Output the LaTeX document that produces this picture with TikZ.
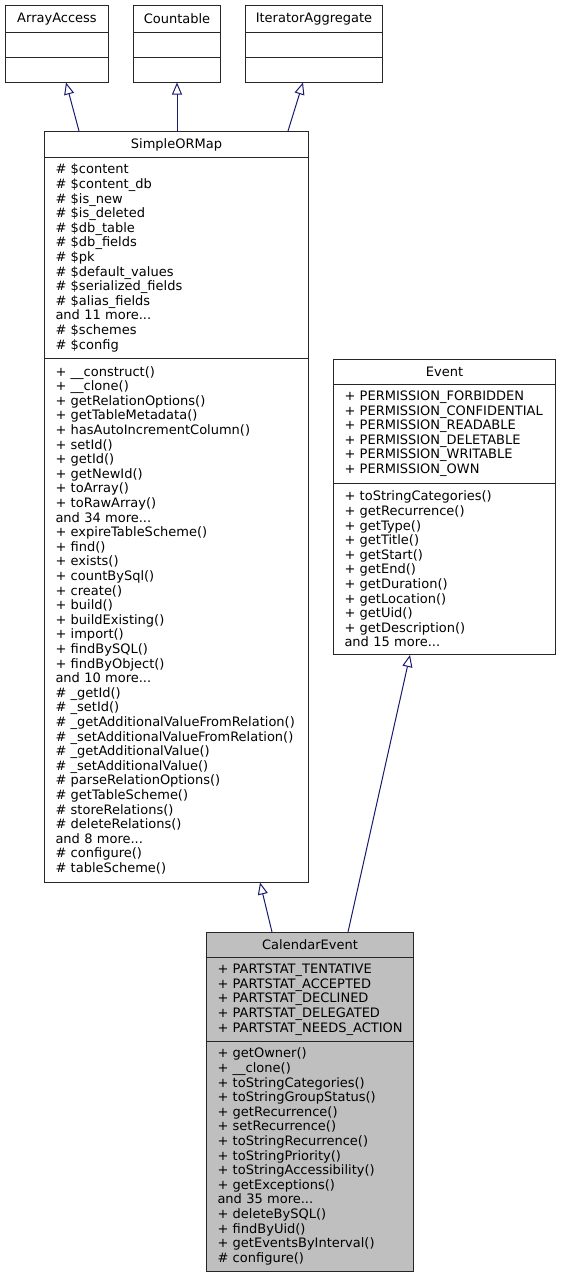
\documentclass[tikz,border=0pt]{standalone}
\usepackage{fontspec}
\setmainfont{DejaVu Sans}
\usetikzlibrary{arrows.meta}
\definecolor{navyline}{HTML}{191970}
\definecolor{hlgray}{HTML}{BFBFBF}
\hyphenpenalty=10000
\hbadness=10000
\begin{document}
\begin{tikzpicture}[
    x=1pt, y=-1pt,
    font=\fontsize{13}{14.6}\selectfont,
    part/.style={draw=black!85, line width=1pt, fill=white, anchor=north west,
      inner sep=0pt, align=left},
    titlepart/.style={part, align=center},
    inherit/.style={draw=navyline, line width=1pt,
      -{Triangle[open, length=12pt, width=10pt]}}
  ]
    \useasboundingbox (0,0) rectangle (561,1277);
    % interfaces arriba
    \node[titlepart, minimum width=103pt, minimum height=26.5pt] (aa) at (5,5) {ArrayAccess};
    \node[part, minimum width=103pt, minimum height=25pt] (aaattr) at (5,31.5) {};
    \node[part, minimum width=103pt, minimum height=25pt] (aaops) at (5,56.5) {};
    \node[titlepart, minimum width=87pt, minimum height=26.5pt] (cnt) at (133,5) {Countable};
    \node[part, minimum width=87pt, minimum height=25pt] (cntattr) at (133,31.5) {};
    \node[part, minimum width=87pt, minimum height=25pt] (cntops) at (133,56.5) {};
    \node[titlepart, minimum width=137pt, minimum height=26.5pt] (ia) at (245,5) {IteratorAggregate};
    \node[part, minimum width=137pt, minimum height=25pt] (iaattr) at (245,31.5) {};
    \node[part, minimum width=137pt, minimum height=25pt] (iaops) at (245,56.5) {};
    % SimpleORMap
    \node[titlepart, minimum width=264pt, minimum height=26pt] (smap) at (44,131) {SimpleORMap};
    \node[part, minimum width=264pt, minimum height=201pt, text width=242pt] (smapattr) at (44,157) {%
      \# \$content\\ \# \$content\_db\\ \# \$is\_new\\ \# \$is\_deleted\\ \# \$db\_table\\
      \# \$db\_fields\\ \# \$pk\\ \# \$default\_values\\ \# \$serialized\_fields\\
      \# \$alias\_fields\\ and 11 more...\\ \# \$schemes\\ \# \$config};
    \node[part, minimum width=264pt, minimum height=523.5pt, text width=242pt] (smapops) at (44,358) {%
      + \_\_construct()\\ + \_\_clone()\\ + getRelationOptions()\\ + getTableMetadata()\\
      + hasAutoIncrementColumn()\\ + setId()\\ + getId()\\ + getNewId()\\ + toArray()\\
      + toRawArray()\\ and 34 more...\\ + expireTableScheme()\\ + find()\\ + exists()\\
      + countBySql()\\ + create()\\ + build()\\ + buildExisting()\\ + import()\\
      + findBySQL()\\ + findByObject()\\ and 10 more...\\ \# \_getId()\\ \# \_setId()\\
      \# \_getAdditionalValueFromRelation()\\ \# \_setAdditionalValueFromRelation()\\
      \# \_getAdditionalValue()\\ \# \_setAdditionalValue()\\ \# parseRelationOptions()\\
      \# getTableScheme()\\ \# storeRelations()\\ \# deleteRelations()\\ and 8 more...\\
      \# configure()\\ \# tableScheme()};
    % Event
    \node[titlepart, minimum width=222pt, minimum height=25pt] (event) at (333,358.5) {Event};
    \node[part, minimum width=222pt, minimum height=99.5pt, text width=200pt] (eventattr) at (333,383.5) {%
      + PERMISSION\_FORBIDDEN\\ + PERMISSION\_CONFIDENTIAL\\ + PERMISSION\_READABLE\\
      + PERMISSION\_DELETABLE\\ + PERMISSION\_WRITABLE\\ + PERMISSION\_OWN};
    \node[part, minimum width=222pt, minimum height=171pt, text width=200pt] (eventops) at (333,483) {%
      + toStringCategories()\\ + getRecurrence()\\ + getType()\\ + getTitle()\\
      + getStart()\\ + getEnd()\\ + getDuration()\\ + getLocation()\\ + getUid()\\
      + getDescription()\\ and 15 more...};
    % CalendarEvent (resaltada)
    \node[titlepart, fill=hlgray, minimum width=207pt, minimum height=25pt] (cal) at (206,932) {CalendarEvent};
    \node[part, fill=hlgray, minimum width=207pt, minimum height=84pt, text width=185pt] (calattr) at (206,957) {%
      + PARTSTAT\_TENTATIVE\\ + PARTSTAT\_ACCEPTED\\ + PARTSTAT\_DECLINED\\
      + PARTSTAT\_DELEGATED\\ \mbox{+ PARTSTAT\_NEEDS\_ACTION}};
    \node[part, fill=hlgray, minimum width=207pt, minimum height=230pt, text width=185pt] (calops) at (206,1041) {%
      + getOwner()\\ + \_\_clone()\\ + toStringCategories()\\ + toStringGroupStatus()\\
      + getRecurrence()\\ + setRecurrence()\\ + toStringRecurrence()\\ + toStringPriority()\\
      + toStringAccessibility()\\ + getExceptions()\\ and 35 more...\\ + deleteBySQL()\\
      + findByUid()\\ + getEventsByInterval()\\ \# configure()};
    % herencia
    \draw[inherit] ([xshift=35pt]smap.north west) -- ([xshift=61pt]aaops.south west);
    \draw[inherit] ([xshift=133pt]smap.north west) -- ([xshift=44pt]cntops.south west);
    \draw[inherit] ([xshift=244pt]smap.north west) -- ([xshift=58pt]iaops.south west);
    \draw[inherit] ([xshift=66pt]cal.north west) -- ([xshift=216pt]smapops.south west);
    \draw[inherit] ([xshift=142pt]cal.north west) -- ([xshift=77pt]eventops.south west);
  \end{tikzpicture}
\end{document}
